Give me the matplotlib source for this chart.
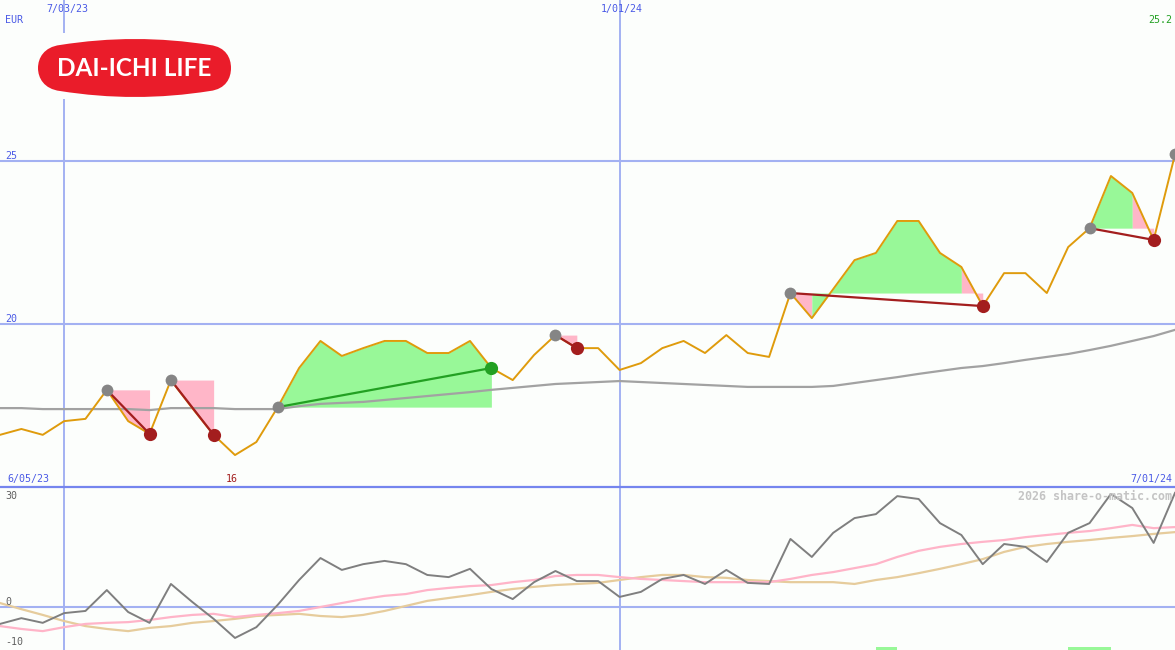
import matplotlib
matplotlib.use('Agg')
import matplotlib.pyplot as plt
import numpy as np
from matplotlib.path import Path
from matplotlib.patches import PathPatch, Rectangle

# ---------------- data (weekly, 56 weeks) ----------------
weeks = np.arange(56)
price = [16.60, 16.78, 16.60, 17.02, 17.09, 17.98, 17.02, 16.63, 18.28, 17.42,
         16.60, 15.98, 16.38, 17.45, 18.65, 19.48, 19.02, 19.26, 19.48, 19.48,
         19.11, 19.11, 19.48, 18.65, 18.28, 19.05, 19.66, 19.26, 19.26, 18.59,
         18.80, 19.26, 19.48, 19.11, 19.66, 19.11, 18.99, 20.95, 20.18, 21.07,
         21.96, 22.18, 23.16, 23.16, 22.18, 21.75, 20.55, 21.56, 21.56, 20.95,
         22.36, 22.94, 24.54, 24.02, 22.58, 25.20]
ma_long = [17.42, 17.42, 17.39, 17.39, 17.39, 17.39, 17.39, 17.36, 17.42, 17.42,
           17.42, 17.39, 17.39, 17.39, 17.48, 17.55, 17.58, 17.61, 17.67, 17.73,
           17.79, 17.85, 17.91, 17.98, 18.04, 18.10, 18.16, 18.19, 18.22, 18.25,
           18.22, 18.19, 18.16, 18.13, 18.10, 18.07, 18.07, 18.07, 18.07, 18.10,
           18.19, 18.28, 18.37, 18.47, 18.56, 18.65, 18.71, 18.80, 18.90, 18.99,
           19.08, 19.20, 19.33, 19.48, 19.63, 19.82]
osc = [-4.7, -3.1, -4.4, -1.7, -1.1, 4.7, -1.4, -4.4, 6.4, 1.4,
       -3.3, -8.6, -5.6, 0.6, 7.5, 13.6, 10.3, 11.9, 12.8, 11.9,
       8.9, 8.3, 10.6, 5.0, 2.2, 6.9, 10.0, 7.2, 7.2, 2.8,
       4.2, 7.8, 8.9, 6.4, 10.3, 6.7, 6.4, 18.9, 13.9, 20.6,
       24.7, 25.8, 30.8, 30.0, 23.3, 20.0, 11.9, 17.5, 16.7, 12.5,
       20.6, 23.3, 31.4, 27.5, 17.8, 31.7]
osc_fast = [-5.3, -6.1, -6.7, -5.6, -4.7, -4.4, -4.2, -3.6, -2.8, -2.2,
            -1.9, -2.8, -2.2, -1.7, -1.1, 0.0, 1.1, 2.2, 3.1, 3.6,
            4.7, 5.3, 5.8, 6.1, 6.9, 7.5, 8.6, 8.9, 8.9, 8.3,
            7.8, 7.5, 7.2, 6.9, 6.9, 6.9, 6.9, 7.8, 8.9, 9.7,
            10.8, 11.9, 13.9, 15.6, 16.7, 17.5, 18.1, 18.6, 19.4, 20.0,
            20.6, 21.1, 21.9, 22.8, 21.9, 22.2]
osc_slow = [1.1, -0.6, -2.2, -3.9, -5.3, -6.1, -6.7, -5.8, -5.3, -4.4,
            -3.9, -3.3, -2.5, -2.2, -1.9, -2.5, -2.8, -2.2, -1.1, 0.3,
            1.7, 2.5, 3.3, 4.2, 5.0, 5.6, 6.1, 6.4, 6.7, 7.5,
            8.3, 8.9, 8.9, 8.3, 8.1, 7.5, 7.2, 6.9, 6.9, 6.9,
            6.4, 7.5, 8.3, 9.4, 10.6, 11.9, 13.3, 15.3, 16.7, 17.5,
            18.1, 18.6, 19.2, 19.7, 20.3, 20.8]
grid_weeks = [3, 29]
grid_labels = ['7/03/23', '1/01/24']
price_grid = [20, 25]
osc_grid = [0]
# (start week, end week, kind)
signals = [(5, 7, 'sell'), (8, 10, 'sell'), (13, 23, 'buy'), (26, 27, 'sell'),
           (37, 46, 'sell'), (51, 54, 'sell')]
open_signal = 55
bottom_bars = [(41, 42), (50, 52)]

# ---------------- style ----------------
W, H = 1175, 650
bg = '#fcfefc'
grid_c = '#a3b1f2'
sep_c = '#7585ee'
lab_c = '#4a5ae6'
orange = '#df9b0c'
pink = '#ffb6c8'
green_fill = '#98f898'
mono = 'DejaVu Sans Mono'

fig = plt.figure(figsize=(W / 100, H / 100), dpi=100)
fig.patch.set_facecolor(bg)
top_h = 487
ax1 = fig.add_axes([0, (H - top_h) / H, 1, top_h / H])
ax2 = fig.add_axes([0, 0, 1, (H - top_h) / H])
for ax in (ax1, ax2):
    ax.set_facecolor(bg)
    for s in ax.spines.values():
        s.set_visible(False)
    ax.set_xticks([])
    ax.set_yticks([])
    ax.set_xlim(0, 55)

ppu = 32.6
ax1.set_ylim(15.0, 15.0 + top_h / ppu)
opu = 3.6
ax2.set_ylim(-43 / opu, (H - top_h - 43) / opu)

for g in price_grid:
    ax1.axhline(g, color=grid_c, lw=1.5, zorder=0)
for gw in grid_weeks:
    ax1.axvline(gw, color=grid_c, lw=1.4, zorder=0)
    ax2.axvline(gw, color=grid_c, lw=1.4, zorder=0)
for g in osc_grid:
    ax2.axhline(g, color=grid_c, lw=1.5, zorder=0)

# signal fills: colour of each weekly interval set by its closing price,
# consecutive intervals of one colour drawn as one polygon
pr = np.array(price, dtype=float)
for s, e, kind in signals:
    level = pr[s]
    cols = [green_fill if pr[i + 1] > level else pink for i in range(s, e)]
    i = 0
    while i < len(cols):
        j = i
        while j + 1 < len(cols) and cols[j + 1] == cols[i]:
            j += 1
        a, b = s + i, s + j + 1
        ax1.fill_between(weeks[a:b + 1], level, pr[a:b + 1], color=cols[i],
                         lw=0, zorder=1)
        i = j + 1

ax1.plot(weeks, ma_long, color='#a2a2a2', lw=1.6, zorder=2)
ax1.plot(weeks, price, color=orange, lw=1.4, zorder=3)

for s, e, kind in signals:
    lc = '#22a022' if kind == 'buy' else '#a31e1e'
    ax1.plot([weeks[s], weeks[e]], [price[s], price[e]], color=lc, lw=1.6, zorder=4)
    ax1.plot(weeks[s], price[s], 'o', color='#858585', ms=8.5, mec='none', zorder=5)
    ax1.plot(weeks[e], price[e], 'o', color=lc, ms=9.5, mec='none', zorder=5)
ax1.plot(weeks[open_signal], price[open_signal], 'o', color='#858585', ms=8.5,
         mec='none', zorder=5)

# oscillator panel
ax2.plot(weeks, osc_slow, color='#e6cc9c', lw=1.6, zorder=2)
ax2.plot(weeks, osc_fast, color='#ffb4c8', lw=1.6, zorder=2)
ax2.plot(weeks, osc, color='#7f7f7f', lw=1.4, zorder=3)
ylo = ax2.get_ylim()[0]
for a, b in bottom_bars:
    ax2.add_patch(Rectangle((a, ylo), b - a, 0.9, color='#98f898', lw=0, zorder=1))

# overlay in pixel coords for texts and logo
ov = fig.add_axes([0, 0, 1, 1])
ov.set_xlim(0, W)
ov.set_ylim(H, 0)
ov.axis('off')
ov.patch.set_alpha(0)

fig.add_artist(plt.Line2D([0, 1], [(H - top_h) / H] * 2, color=sep_c, lw=1.6))

fs = 7.2
xpix = lambda w: w * W / 55
ov.text(xpix(grid_weeks[0]) + 3, 9, grid_labels[0], color=lab_c, fontsize=fs,
        family=mono, ha='center', va='center')
ov.text(xpix(grid_weeks[1]) + 2, 9, grid_labels[1], color=lab_c, fontsize=fs,
        family=mono, ha='center', va='center')
ov.text(5, 20, 'EUR', color=lab_c, fontsize=fs, family=mono, va='center')
ov.text(5, 156, '25', color=lab_c, fontsize=fs, family=mono, va='center')
ov.text(5, 319, '20', color=lab_c, fontsize=fs, family=mono, va='center')
ov.text(1172, 20, '25.2', color='#22a022', fontsize=fs, family=mono,
        va='center', ha='right')
ov.text(7, 479, '6/05/23', color=lab_c, fontsize=fs, family=mono, va='center')
ov.text(232, 479, '16', color='#a31e1e', fontsize=fs, family=mono,
        va='center', ha='center')
ov.text(1172, 479, '7/01/24', color=lab_c, fontsize=fs, family=mono,
        va='center', ha='right')
ov.text(5, 496, '30', color='#606060', fontsize=fs, family=mono, va='center')
ov.text(5, 602, '0', color='#606060', fontsize=fs, family=mono, va='center')
ov.text(5, 642, '-10', color='#606060', fontsize=fs, family=mono, va='center')
ov.text(1172, 496, '2026 share-o-matic.com', color='#c4c4c4', fontsize=8.4,
        family=mono, weight='bold', va='center', ha='right')

# logo
ov.add_patch(Rectangle((34, 33), 202, 66, color=bg, lw=0, zorder=5))
verts = [(60, 45), (135, 33), (210, 45),
         (226, 47), (231, 58), (231, 68),
         (231, 78), (226, 89), (210, 91),
         (135, 103), (60, 91),
         (44, 89), (38, 78), (38, 68),
         (38, 58), (44, 47), (60, 45)]
codes = [Path.MOVETO, Path.CURVE3, Path.CURVE3,
         Path.CURVE4, Path.CURVE4, Path.CURVE4,
         Path.CURVE4, Path.CURVE4, Path.CURVE4,
         Path.CURVE3, Path.CURVE3,
         Path.CURVE4, Path.CURVE4, Path.CURVE4,
         Path.CURVE4, Path.CURVE4, Path.CURVE4]
ov.add_patch(PathPatch(Path(verts, codes), facecolor='#ea1c2a', edgecolor='none',
                       zorder=6))
ov.text(134, 68.5, 'DAI-ICHI LIFE', color='white', fontsize=17.5, family='Lato',
        weight='bold', ha='center', va='center', zorder=7)

fig.savefig('out.png', dpi=100, facecolor=bg)
